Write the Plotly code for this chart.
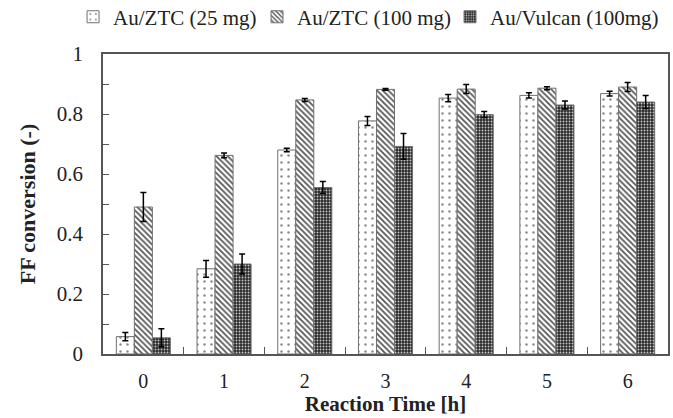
import plotly.graph_objects as go

categories = ["0", "1", "2", "3", "4", "5", "6"]
series_names = ["Au/ZTC (25 mg)", "Au/ZTC (100 mg)", "Au/Vulcan (100mg)"]
ztc25 = [0.058, 0.284, 0.680, 0.777, 0.853, 0.862, 0.868]
ztc25_err = [0.014, 0.028, 0.006, 0.015, 0.012, 0.009, 0.008]
ztc100 = [0.490, 0.662, 0.847, 0.882, 0.883, 0.886, 0.890]
ztc100_err = [0.048, 0.008, 0.005, 0.003, 0.015, 0.005, 0.015]
vulcan = [0.054, 0.300, 0.555, 0.692, 0.798, 0.830, 0.840]
vulcan_err = [0.030, 0.033, 0.020, 0.043, 0.010, 0.013, 0.022]

FONT = "Liberation Serif, Times New Roman, serif"
TXT = "#222222"

styles = [
    dict(bg="white", fg="#8a8a8a", shape=".", size=7, solidity=0.1),
    dict(bg="white", fg="#555555", shape="\\", size=4, solidity=0.45),
    dict(bg="#2a2a2a", fg="#c8c8c8", shape=".", size=3, solidity=0.3),
]
legend_ids = ["legend", "legend2", "legend3"]
legend_x = [-0.053, 0.2726, 0.6142]

fig = go.Figure()
for name, vals, errs, st, lg in zip(series_names, [ztc25, ztc100, vulcan],
                                     [ztc25_err, ztc100_err, vulcan_err], styles, legend_ids):
    fig.add_trace(go.Bar(
        name=name, x=categories, y=vals, legend=lg,
        error_y=dict(type="data", array=errs, color="black", thickness=1.5, width=3),
        marker=dict(
            color=st["bg"],
            line=dict(color="#707070", width=1),
            pattern=dict(shape=st["shape"], fgcolor=st["fg"], bgcolor=st["bg"],
                         size=st["size"], solidity=st["solidity"], fillmode="replace"),
        ),
    ))

legend_common = dict(orientation="h", xanchor="left", y=1.123, yanchor="middle",
                     font=dict(family=FONT, size=21, color=TXT),
                     bgcolor="rgba(0,0,0,0)")
fig.update_layout(
    width=673, height=418,
    margin=dict(l=103, r=5, t=54, b=64, autoexpand=False),
    paper_bgcolor="white", plot_bgcolor="white",
    barmode="group", bargap=0.33, bargroupgap=0,
    font=dict(family=FONT, size=21, color=TXT),
    showlegend=True,
    legend=dict(x=legend_x[0], **legend_common),
    legend2=dict(x=legend_x[1], **legend_common),
    legend3=dict(x=legend_x[2], **legend_common),
)
fig.update_xaxes(
    type="category", tickson="boundaries", ticks="inside", ticklen=7,
    tickcolor="#555555", showline=True, linecolor="#555555", linewidth=1.5,
    mirror=True, showgrid=False, ticklabelstandoff=8,
    tickfont=dict(family=FONT, size=20, color=TXT),
    title=dict(text="<b>Reaction Time [h]</b>", font=dict(family=FONT, size=21, color=TXT),
               standoff=4),
)
fig.update_yaxes(
    range=[0, 1], dtick=0.2, ticks="inside", ticklen=6, tickcolor="#555555",
    minor=dict(dtick=0.1, ticks="inside", ticklen=6, tickcolor="#555555"),
    showline=True, linecolor="#555555", linewidth=1.5, mirror=True,
    showgrid=False, zeroline=False, ticklabelstandoff=14,
    tickformat="~g",
    tickfont=dict(family=FONT, size=21, color=TXT),
    title=dict(text="<b>FF conversion (-)</b>", font=dict(family=FONT, size=22, color=TXT),
               standoff=15),
)

fig.write_html("out.html")
